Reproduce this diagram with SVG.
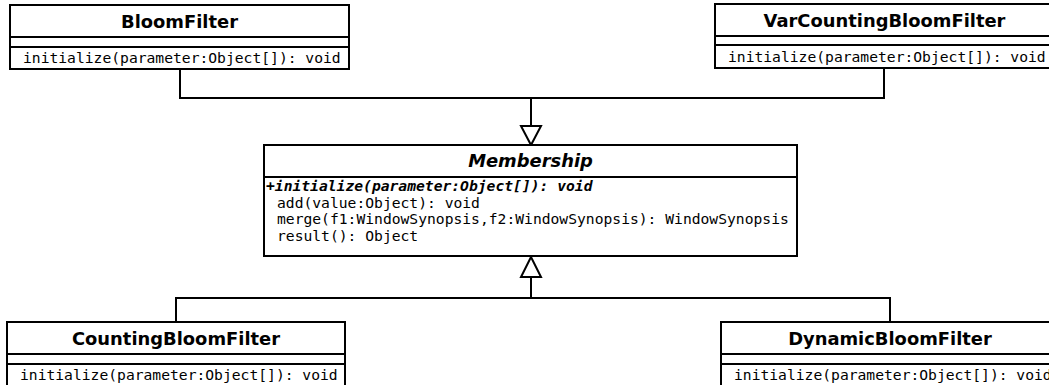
<svg xmlns="http://www.w3.org/2000/svg" width="1049" height="385" viewBox="0 0 1049 385">
<style>
.box{fill:#fff;stroke:#000;stroke-width:2}
.sep{stroke:#000;stroke-width:2;fill:none}
.title{font-family:"DejaVu Sans",sans-serif;font-weight:bold;font-size:17.9px;text-anchor:middle;fill:#000}
.abs{font-style:oblique}
.m{font-family:"DejaVu Sans Mono",monospace;font-size:14.67px;fill:#000;white-space:pre}
.mi{font-weight:bold;font-style:oblique}
.conn{stroke:#000;stroke-width:2;fill:none}
.tri{fill:#fff;stroke:#000;stroke-width:2}
</style>
<rect width="1049" height="385" fill="#fff"/>
<g id="connectors">
<path class="conn" d="M180,69 V98 H884 V68"/>
<path class="conn" d="M531,98 V126"/>
<polygon class="tri" points="521,126 541,126 531,145"/>
<path class="conn" d="M176,322 V298 H890 V322"/>
<path class="conn" d="M531,298 V277"/>
<polygon class="tri" points="521,277 541,277 531,257"/>
</g>
<g id="BloomFilter">
<rect class="box" x="10" y="5" width="339" height="64"/>
<path class="sep" d="M10,37 H349 M10,47 H349"/>
<text class="title" x="179.5" y="28">BloomFilter</text>
<text class="m" x="23" y="62.5">initialize(parameter:Object[]): void</text>
</g>
<g id="VarCountingBloomFilter">
<rect class="box" x="715" y="4" width="339" height="64"/>
<path class="sep" d="M715,36 H1054 M715,45 H1054"/>
<text class="title" x="884.5" y="27">VarCountingBloomFilter</text>
<text class="m" x="728" y="61.5">initialize(parameter:Object[]): void</text>
</g>
<g id="Membership">
<rect class="box" x="264" y="145" width="533" height="111"/>
<path class="sep" d="M264,177 H797"/>
<text class="title abs" x="530.5" y="167">Membership</text>
<text class="m mi" x="266" y="191">+initialize(parameter:Object[]): void</text>
<text class="m" x="277" y="207.5">add(value:Object): void</text>
<text class="m" x="277" y="224">merge(f1:WindowSynopsis,f2:WindowSynopsis): WindowSynopsis</text>
<text class="m" x="277" y="240.5">result(): Object</text>
</g>
<g id="CountingBloomFilter">
<rect class="box" x="7" y="322" width="338" height="66"/>
<path class="sep" d="M7,354 H345 M7,364 H345"/>
<text class="title" x="176" y="345">CountingBloomFilter</text>
<text class="m" x="20" y="380">initialize(parameter:Object[]): void</text>
</g>
<g id="DynamicBloomFilter">
<rect class="box" x="721" y="322" width="338" height="66"/>
<path class="sep" d="M721,354 H1059 M721,364 H1059"/>
<text class="title" x="890" y="345">DynamicBloomFilter</text>
<text class="m" x="734" y="380">initialize(parameter:Object[]): void</text>
</g>
</svg>
